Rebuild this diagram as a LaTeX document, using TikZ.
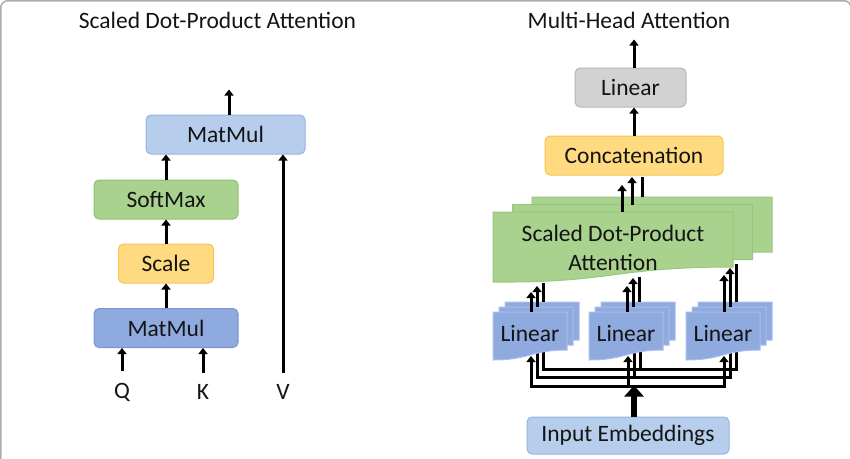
\documentclass[tikz,border=0pt]{standalone}
\usepackage{fontspec}
\setmainfont{Carlito}
\usetikzlibrary{arrows.meta, positioning, calc}

\definecolor{blue1}{RGB}{182,206,236}
\definecolor{blue1d}{RGB}{148,180,222}
\definecolor{blue2}{RGB}{143,170,222}
\definecolor{blue2d}{RGB}{122,150,208}
\definecolor{blue2l}{RGB}{170,190,234}
\definecolor{green1}{RGB}{169,210,143}
\definecolor{green1d}{RGB}{142,192,112}
\definecolor{yellow1}{RGB}{255,218,128}
\definecolor{yellow1d}{RGB}{246,196,84}
\definecolor{gray1}{RGB}{210,210,210}
\definecolor{gray1d}{RGB}{182,182,182}

% wavy "document" sheet: corner, width, right drop, control drop, left drop, style
\newcommand{\wavebox}[6]{%
  \filldraw[#6] (#1) -- ($(#1)+(#2,0)$) -- ($(#1)+(#2,#3)$)
    .. controls ($(#1)+(0.5*#2,#3)$) and ($(#1)+(0.5*#2,#4)$) .. ($(#1)+(0,#5)$) -- cycle;}

\tikzset{
  box/.style={draw=#1d, fill=#1, rounded corners=5pt, line width=1pt, minimum height=39pt, inner sep=0pt},
  arr/.style={line width=3pt, -{Triangle[length=6pt,width=9pt]}},
  wire/.style={line width=3pt},
  bigarr/.style={line width=6pt, -{Triangle[length=11pt,width=19pt]}},
  sheetg/.style={fill=green1, draw=green1d!60!green1, line width=1pt},
  sheetb/.style={fill=blue2, draw=blue2l, line width=1pt},
}

\begin{document}
\begin{tikzpicture}[x=1pt, y=-1pt, every node/.style={font=\fontsize{23.5}{29}\selectfont, text=black!92}]
  \useasboundingbox (0,0) rectangle (850,458);
  \draw[gray!65, line width=1.5pt, rounded corners=7pt] (0.75,470) -- (0.75,0.75) -- (851,0.75) -- (851,470);

  % titles
  \node (title1) at (217.5,20) {Scaled Dot-Product Attention};
  \node (title2) at (629,20) {Multi-Head Attention};

  % scaled dot-product attention
  \node[box=blue1, minimum width=159pt] (mmtop) at (225.5,134.5) {MatMul};
  \node[box=green1, minimum width=144pt] (soft) at (166,199.5) {SoftMax};
  \node[box=yellow1, minimum width=95pt] (scale) at (166,263.5) {Scale};
  \node[box=blue2, minimum width=144pt] (mmbot) at (166,328) {MatMul};
  \node (q) at (122,392) {Q};
  \node (k) at (203,392) {K};
  \node (v) at (283,392) {V};

  \draw[arr] ([yshift=8pt]q.north) -- (q.north |- mmbot.south);
  \draw[arr] ([yshift=8pt]k.north) -- (k.north |- mmbot.south);
  \draw[arr] ([yshift=8pt]v.north) -- (v.north |- mmtop.south);
  \draw[arr] (mmbot.north) -- (scale.south);
  \draw[arr] (scale.north) -- (soft.south);
  \draw[arr] (soft.north) -- (soft.north |- mmtop.south);
  \draw[arr] ([xshift=3.5pt]mmtop.north) -- ++(0,-25);

  % multi-head attention
  \node[box=gray1, minimum width=111pt] (lin) at (630.5,87.5) {Linear};
  \node[box=yellow1, minimum width=178pt] (concat) at (634,155.5) {Concatenation};
  \node[box=blue1, minimum width=202pt, minimum height=37pt] (emb) at (628,435.5) {Input Embeddings};

  \coordinate (g3) at (532,197);
  \coordinate (g2) at (512.5,204.5);
  \coordinate (g1) at (493,212);
  \foreach \i/\sx in {1/493, 2/589, 3/686} {
    \coordinate (lc\i) at (\sx+12,302);
    \coordinate (lb\i) at (\sx+6,307);
    \coordinate (la\i) at (\sx,312);
  }
  \coordinate (bus0) at (628,386);
  \coordinate (bus1) at (634,377.5);
  \coordinate (bus2) at (640,369);

  \wavebox{g3}{240}{55}{71}{70}{sheetg}
  \wavebox{g2}{240}{55}{71}{70}{sheetg}
  \wavebox{g1}{240}{55}{71}{70}{sheetg}
  \node[align=center] (sdpa) at (613,247.5) {Scaled Dot-Product\\Attention};

  % hidden wires to the back sheets
  \draw[wire] ($(lb1)+(38,45)$) |- (bus1) -| ($(lb3)+(38,45)$);
  \draw[wire] ($(lc1)+(38,45)$) |- (bus2) -| ($(lc3)+(38,45)$);
  \draw[wire] (bus1) -- ++(0,-26);
  \draw[wire] (bus2) -- ++(0,-23);

  \foreach \i in {1,2,3} {
    \wavebox{lc\i}{74}{38}{48}{48}{sheetb}
    \wavebox{lb\i}{74}{38}{48}{48}{sheetb}
    \wavebox{la\i}{74}{38}{48}{48}{sheetb}
  }
  \node (lin1) at (530,333) {Linear};
  \node (lin2) at (626,333) {Linear};
  \node (lin3) at (723,333) {Linear};

  \draw[wire, {Triangle[length=6pt,width=9pt]}-{Triangle[length=6pt,width=9pt]}]
    ($(la1)+(38,44)$) |- (bus0) -| ($(la3)+(38,44)$);
  \draw[arr] (bus0) -- ++(0,-30);
  \draw[bigarr] ([xshift=6pt]emb.north) -- ++(0,-31);

  \foreach \i/\ta/\tb/\tc in {1/20/21/19, 2/26/29/25, 3/37/39/38} {
    \draw[arr] ($(la\i)+(38,0)$) -- ++(0,-\ta);
    \draw[arr] ($(lb\i)+(38,0)$) -- ++(0,-\tb);
    \draw[wire] ($(lc\i)+(38,0)$) -- ++(0,-\tc);
  }

  \draw[arr] ($(g1)+(129,0)$) -- ++(0,-27);
  \draw[arr] ($(g2)+(119.5,0)$) -- ++(0,-27.5);
  \draw[wire] ($(g3)+(110,0)$) -- ++(0,-20);
  \draw[arr] (concat.north) -- (concat.north |- lin.south);
  \draw[arr] (concat.north |- lin.north) -- ++(0,-28);
\end{tikzpicture}
\end{document}
